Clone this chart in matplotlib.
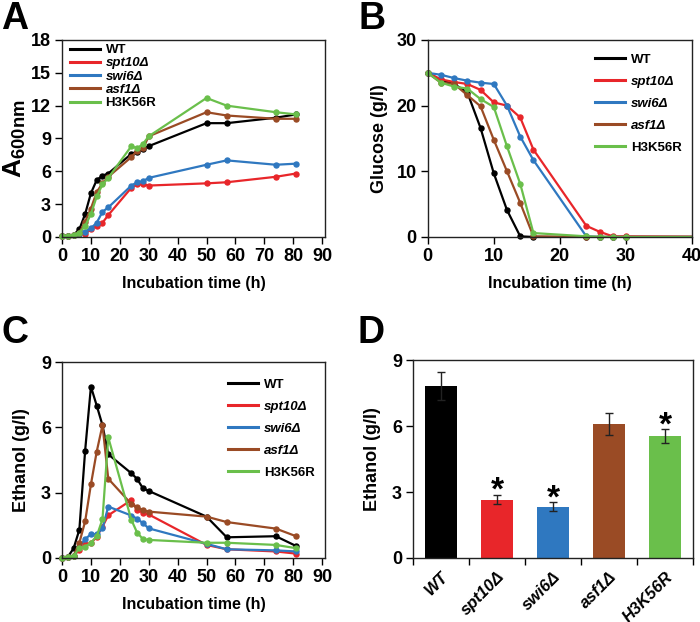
import matplotlib
matplotlib.use("Agg")
import matplotlib.pyplot as plt

plt.rcParams['font.family'] = ['Liberation Sans', 'DejaVu Sans']
plt.rcParams['font.weight'] = 'bold'
plt.rcParams['mathtext.fontset'] = 'custom'
plt.rcParams['mathtext.bf'] = 'Liberation Sans:bold'
plt.rcParams['mathtext.rm'] = 'Liberation Sans:bold'

# sampling times (h)
time_h = [0, 2, 4, 6, 8, 10, 12, 14, 16, 24, 26, 28, 30, 50, 57, 74, 81]
strains = ['WT', 'spt10Δ', 'swi6Δ', 'asf1Δ', 'H3K56R']
italic = [False, True, True, True, False]
colors = ['#000000', '#e8262a', '#2f78c0', '#9a4b25', '#6abf4b']

# A: growth (A600nm)
od_wt = [0.1, 0.1, 0.2, 0.7, 2.1, 4.0, 5.2, 5.6, 5.8, 7.6, 7.8, 8.0, 8.3, 10.4, 10.4, 10.9, 11.2]
od_spt10 = [0.1, 0.1, 0.2, 0.3, 0.3, 0.7, 1.0, 1.3, 2.0, 4.5, 4.8, 4.8, 4.7, 4.9, 5.0, 5.5, 5.8]
od_swi6 = [0.1, 0.1, 0.2, 0.3, 0.5, 0.8, 1.3, 2.3, 2.7, 4.7, 5.0, 5.1, 5.4, 6.6, 7.0, 6.6, 6.7]
od_asf1 = [0.1, 0.1, 0.2, 0.4, 1.4, 2.6, 4.1, 4.9, 5.5, 7.3, 7.9, 8.1, 9.2, 11.4, 11.1, 10.8, 10.8]
od_h3k56r = [0.1, 0.1, 0.2, 0.4, 1.0, 2.1, 3.7, 4.8, 5.4, 8.3, 8.1, 8.5, 9.2, 12.7, 12.0, 11.4, 11.2]

# B: glucose (g/l)
glc_wt = [25, 23.9, 23.3, 22.0, 16.6, 9.7, 4.1, 0.1, 0, 0, 0, 0, 0, 0, 0, 0, 0]
glc_spt10 = [25, 24.0, 23.6, 23.3, 22.4, 20.5, 20.0, 18.2, 13.3, 1.7, 0.8, 0.1, 0.1, 0, 0, 0, 0]
glc_swi6 = [25, 24.7, 24.2, 23.8, 23.5, 23.3, 20.0, 15.3, 11.7, 0.1, 0, 0, 0, 0, 0, 0, 0]
glc_asf1 = [25, 23.5, 23.3, 21.6, 19.9, 14.8, 10.0, 5.2, 0.1, 0, 0, 0, 0, 0, 0, 0, 0]
glc_h3k56r = [25, 23.5, 22.9, 22.6, 21.0, 19.8, 13.8, 8.1, 0.6, 0.1, 0, 0, 0, 0, 0, 0, 0]

# C: ethanol (g/l)
eth_wt = [0, 0.05, 0.44, 1.3, 4.93, 7.87, 7.0, 6.1, 4.76, 3.89, 3.63, 3.2, 3.08, 1.9, 0.95, 1.0, 0.55]
eth_spt10 = [0, 0.05, 0.1, 0.37, 0.63, 0.67, 0.98, 1.44, 1.96, 2.66, 2.2, 2.08, 2.0, 0.6, 0.4, 0.3, 0.2]
eth_swi6 = [0, 0.05, 0.1, 0.52, 0.87, 1.09, 1.09, 1.36, 2.36, 1.95, 1.8, 1.6, 1.36, 0.65, 0.4, 0.35, 0.3]
eth_asf1 = [0, 0.05, 0.1, 0.7, 1.68, 3.38, 4.88, 6.1, 3.64, 2.48, 2.33, 2.2, 2.13, 1.9, 1.65, 1.35, 1.0]
eth_h3k56r = [0, 0.05, 0.1, 0.45, 0.52, 0.7, 1.0, 1.78, 5.54, 1.75, 1.16, 0.87, 0.83, 0.7, 0.7, 0.6, 0.45]

# D: maximum ethanol
max_eth = [7.82, 2.66, 2.34, 6.11, 5.55]
max_err = [0.65, 0.21, 0.19, 0.5, 0.3]
signif = [False, True, True, False, True]

fig = plt.figure(figsize=(7, 6.22), dpi=100)


def style_axes(ax):
    for s in ax.spines.values():
        s.set_linewidth(1.0)
        s.set_color('#222222')
    ax.tick_params(direction='out', length=5, width=1, labelsize=13, pad=3)
    for lab in ax.get_xticklabels() + ax.get_yticklabels():
        lab.set_fontweight('bold')


def add_legend(ax, loc, spacing, anchor=None):
    leg = ax.legend(loc=loc, frameon=False, fontsize=9.5, handlelength=2.3,
                    labelspacing=spacing, handletextpad=0.4, bbox_to_anchor=anchor,
                    borderaxespad=0.2)
    for txt, it in zip(leg.get_texts(), italic):
        txt.set_fontweight('bold')
        if it:
            txt.set_fontstyle('italic')
    for h in leg.get_lines():
        h.set_linewidth(2.2)
        h.set_marker('')


def line_panel(ax, series, clip=False):
    for ys, c, name in zip(series, colors, strains):
        ax.plot(time_h, ys, color=c, lw=1.6, marker='o', ms=3.6, label=name, clip_on=clip)


# Panel A
axA = fig.add_axes([0.0886, 0.619, 0.3757, 0.3167])
line_panel(axA, [od_wt, od_spt10, od_swi6, od_asf1, od_h3k56r])
axA.set_xlim(0, 91)
axA.set_ylim(0, 18)
axA.set_xticks(range(0, 91, 10))
axA.set_yticks(range(0, 19, 3))
axA.set_xlabel('Incubation time (h)', fontsize=11.5, fontweight='bold', labelpad=8)
axA.set_ylabel(r'$\mathbf{A_{600nm}}$', fontsize=19, labelpad=2)
style_axes(axA)
add_legend(axA, 'upper left', 0.08, (0.0, 1.02))

# Panel B
axB = fig.add_axes([0.611, 0.619, 0.3776, 0.3167])
for ys, c, name in zip([glc_wt, glc_spt10, glc_swi6, glc_asf1, glc_h3k56r], colors, strains):
    ax_t = [t for t in time_h if t <= 40]
    axB.plot(time_h, ys, color=c, lw=1.6, label=name)
    axB.plot(ax_t, ys[:len(ax_t)], color=c, lw=0, marker='o', ms=3.6, clip_on=False)
axB.set_xlim(0, 40)
axB.set_ylim(0, 30)
axB.set_xticks(range(0, 41, 10))
axB.set_yticks(range(0, 31, 10))
axB.set_xlabel('Incubation time (h)', fontsize=11.5, fontweight='bold', labelpad=8)
axB.set_ylabel('Glucose (g/l)', fontsize=13, fontweight='bold', labelpad=6)
style_axes(axB)
add_legend(axB, 'upper right', 0.74, (0.99, 0.97))

# Panel C
axC = fig.add_axes([0.0886, 0.1029, 0.3757, 0.3151])
line_panel(axC, [eth_wt, eth_spt10, eth_swi6, eth_asf1, eth_h3k56r])
axC.set_xlim(0, 91)
axC.set_ylim(0, 9)
axC.set_xticks(range(0, 91, 10))
axC.set_yticks(range(0, 10, 3))
axC.set_xlabel('Incubation time (h)', fontsize=11.5, fontweight='bold', labelpad=8)
axC.set_ylabel('Ethanol (g/l)', fontsize=13, fontweight='bold', labelpad=8)
style_axes(axC)
add_legend(axC, 'upper right', 0.74, (0.99, 0.955))

# Panel D
axD = fig.add_axes([0.59, 0.1029, 0.4, 0.318])
xpos = list(range(len(strains)))
axD.bar(xpos, max_eth, width=0.56, color=colors, yerr=max_err, capsize=3,
        error_kw=dict(elinewidth=1, capthick=1, ecolor='#222222'))
for x, v, e, s in zip(xpos, max_eth, max_err, signif):
    if s:
        axD.text(x, v + e - 0.22, '*', ha='center', va='baseline', fontsize=24, fontweight='bold')
axD.set_xlim(-0.5, 4.5)
axD.set_ylim(0, 9)
axD.set_yticks(range(0, 10, 3))
axD.set_xticks([i - 0.5 for i in range(6)])
axD.set_xticklabels([])
axD.set_xticks(xpos, minor=True)
axD.set_xticklabels(strains, minor=True, rotation=45, ha='right', rotation_mode='anchor',
                    fontsize=12, fontweight='bold', fontstyle='italic')
axD.tick_params(axis='x', which='minor', length=0, pad=8)
axD.set_ylabel('Ethanol (g/l)', fontsize=13, fontweight='bold', labelpad=8)
style_axes(axD)

# panel letters
for lx, ly, letter in [(0.002, 0.998, 'A'), (0.512, 0.998, 'B'), (0.002, 0.494, 'C'), (0.51, 0.494, 'D')]:
    fig.text(lx, ly, letter, fontsize=27, fontweight='bold', va='top', ha='left')

fig.savefig('out.png', dpi=100, facecolor='white')
